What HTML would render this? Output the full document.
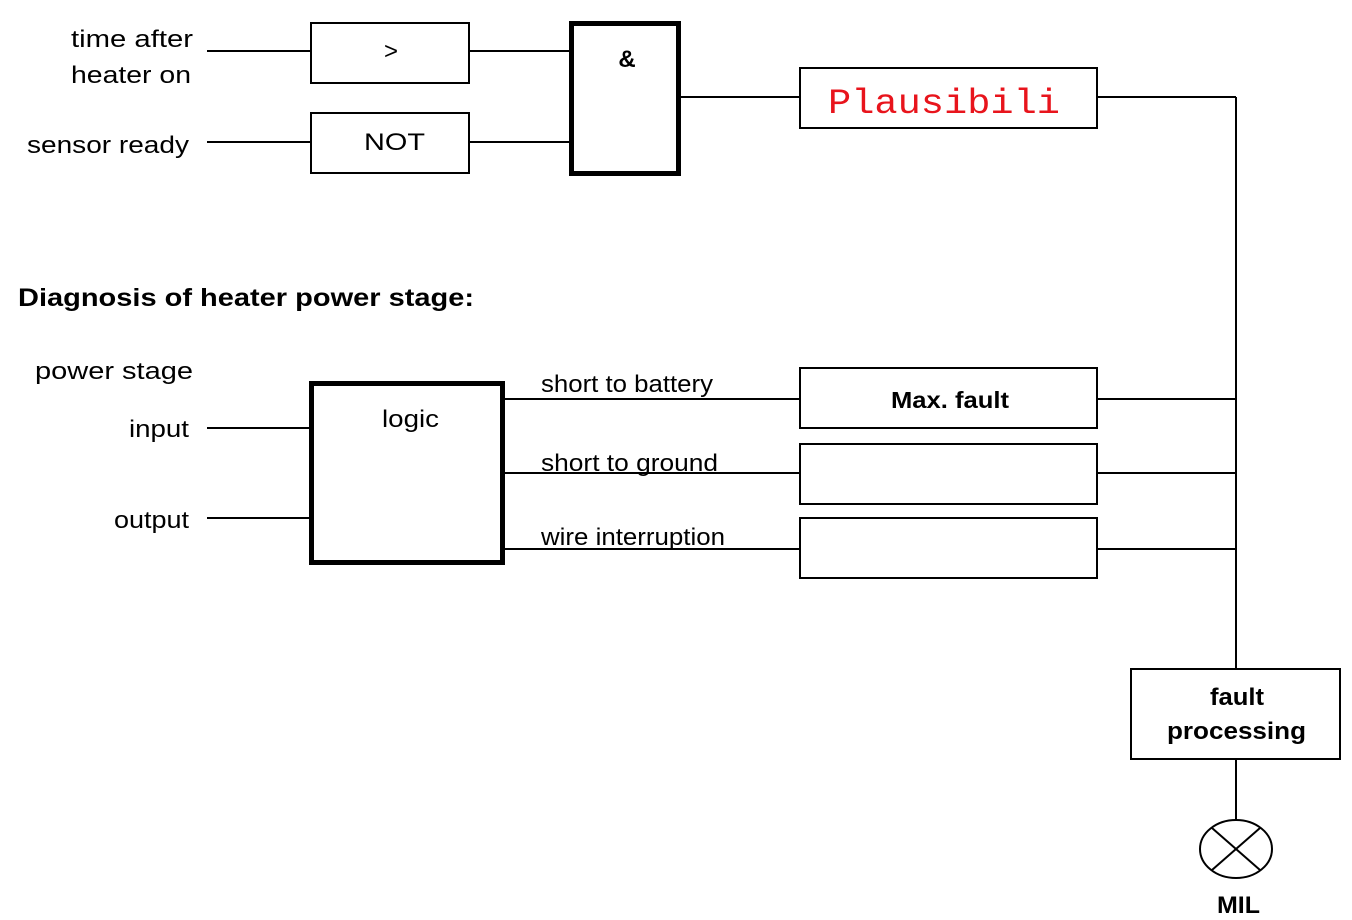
<!DOCTYPE html>
<html><head><meta charset="utf-8"><style>
html,body{margin:0;padding:0;background:#fff;}
svg{display:block;}
</style></head><body>
<svg width="1352" height="920" viewBox="0 0 1352 920" xmlns="http://www.w3.org/2000/svg" font-family="Liberation Sans, Arial, sans-serif">
<g stroke="#000" stroke-width="2" fill="none">
<line x1="207" y1="51" x2="311" y2="51"/>
<line x1="207" y1="142" x2="311" y2="142"/>
<line x1="469" y1="51" x2="571" y2="51"/>
<line x1="469" y1="142" x2="571" y2="142"/>
<rect x="311" y="23" width="158" height="60"/>
<rect x="311" y="113" width="158" height="60"/>
<line x1="679" y1="97" x2="800" y2="97"/>
<rect x="800" y="68" width="297" height="60"/>
<line x1="1097" y1="97" x2="1236" y2="97"/>
<line x1="1236" y1="97" x2="1236" y2="669"/>
<line x1="207" y1="428" x2="311" y2="428"/>
<line x1="207" y1="518" x2="311" y2="518"/>
<line x1="503" y1="399" x2="800" y2="399"/>
<line x1="503" y1="473" x2="800" y2="473"/>
<line x1="503" y1="549" x2="800" y2="549"/>
<rect x="800" y="368" width="297" height="60"/>
<rect x="800" y="444" width="297" height="60"/>
<rect x="800" y="518" width="297" height="60"/>
<line x1="1097" y1="399" x2="1236" y2="399"/>
<line x1="1097" y1="473" x2="1236" y2="473"/>
<line x1="1097" y1="549" x2="1236" y2="549"/>
<rect x="1131" y="669" width="209" height="90"/>
<line x1="1236" y1="759" x2="1236" y2="820"/>
<ellipse cx="1236" cy="849" rx="36" ry="29"/>
<line x1="1212" y1="828" x2="1260" y2="870"/>
<line x1="1260" y1="828" x2="1212" y2="870"/>
</g>
<g stroke="#000" stroke-width="5" fill="none">
<rect x="571.5" y="23.5" width="107" height="150"/>
<rect x="311.5" y="383.5" width="191" height="179"/>
</g>
<g font-size="24" fill="#000">
<text x="71" y="47" textLength="122" lengthAdjust="spacingAndGlyphs">time after</text>
<text x="71" y="83" textLength="120" lengthAdjust="spacingAndGlyphs">heater on</text>
<text x="27" y="153" textLength="162" lengthAdjust="spacingAndGlyphs">sensor ready</text>
<text x="391" y="59" text-anchor="middle">&gt;</text>
<text x="364" y="150" textLength="61" lengthAdjust="spacingAndGlyphs">NOT</text>
<text x="35" y="379" textLength="158" lengthAdjust="spacingAndGlyphs">power stage</text>
<text x="129" y="437" textLength="60" lengthAdjust="spacingAndGlyphs">input</text>
<text x="114" y="528" textLength="75" lengthAdjust="spacingAndGlyphs">output</text>
<text x="382" y="427" textLength="57" lengthAdjust="spacingAndGlyphs">logic</text>
<text x="541" y="392" textLength="172" lengthAdjust="spacingAndGlyphs">short to battery</text>
<text x="541" y="471" textLength="177" lengthAdjust="spacingAndGlyphs">short to ground</text>
<text x="541" y="545" textLength="184" lengthAdjust="spacingAndGlyphs">wire interruption</text>
</g>
<text x="627" y="67" text-anchor="middle" font-size="24" font-weight="bold">&amp;</text>
<text x="828" y="113" font-family="Liberation Mono, monospace" font-size="35" fill="#e8141c" textLength="232" lengthAdjust="spacingAndGlyphs">Plausibili</text>
<text x="18" y="306" font-size="25" font-weight="bold" textLength="456" lengthAdjust="spacingAndGlyphs">Diagnosis of heater power stage:</text>
<text x="891" y="408" font-size="23" font-weight="bold" textLength="118" lengthAdjust="spacingAndGlyphs">Max. fault</text>
<text x="1210" y="705" font-size="24" font-weight="bold" textLength="54" lengthAdjust="spacingAndGlyphs">fault</text>
<text x="1167" y="739" font-size="24" font-weight="bold" textLength="139" lengthAdjust="spacingAndGlyphs">processing</text>
<text x="1217" y="913" font-size="24" font-weight="bold" textLength="43" lengthAdjust="spacingAndGlyphs">MIL</text>
</svg>
</body></html>
